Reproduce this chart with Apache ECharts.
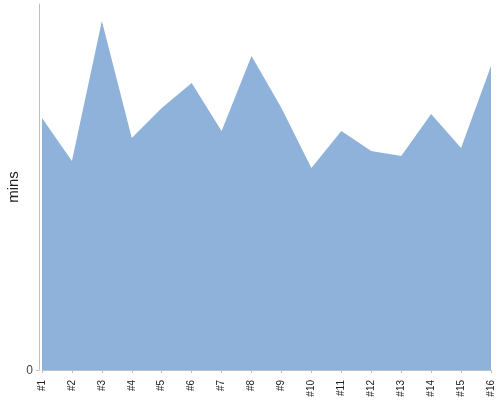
<!DOCTYPE html>
<html>
<head>
<meta charset="utf-8">
<script src="https://cdn.jsdelivr.net/npm/echarts@6/dist/echarts.min.js"></script>
<style>html,body{margin:0;padding:0;background:#fff}#c{width:500px;height:400px}</style>
</head>
<body>
<div id="c"></div>
<script>
var categories = ['#1','#2','#3','#4','#5','#6','#7','#8','#9','#10','#11','#12','#13','#14','#15','#16'];
var minsValues = [25.2, 20.9, 34.9, 23.2, 26.2, 28.7, 23.9, 31.4, 26.2, 20.2, 23.9, 21.9, 21.4, 25.6, 22.2, 30.4];
var yTickLabels = [0];

var chart = echarts.init(document.getElementById('c'), null, {renderer: 'canvas'});
chart.setOption({
  animation: false,
  grid: {left: 42, right: 9, top: 4, bottom: 30, containLabel: false, outerBoundsMode: 'none'},
  xAxis: {
    type: 'category',
    data: categories,
    boundaryGap: false,
    offset: 3,
    axisLine: {lineStyle: {color: '#c0c0c0', width: 1}},
    axisTick: {length: 3, alignWithLabel: true, lineStyle: {color: '#c0c0c0'}},
    axisLabel: {rotate: 90, interval: 0, fontFamily: 'Liberation Sans, Arial', fontSize: 10, color: '#222', margin: 7}
  },
  yAxis: {
    type: 'value',
    min: 0,
    max: 36.6,
    offset: 3,
    name: 'mins',
    nameLocation: 'middle',
    nameGap: 18,
    nameMoveOverlap: false,
    nameTextStyle: {fontFamily: 'Liberation Sans, Arial', fontSize: 15, color: '#222'},
    splitLine: {show: false},
    axisLine: {show: true, lineStyle: {color: '#c0c0c0', width: 1}},
    axisTick: {show: true, length: 3, customValues: yTickLabels, lineStyle: {color: '#c0c0c0'}},
    axisLabel: {customValues: yTickLabels, fontFamily: 'Liberation Sans, Arial', fontSize: 12, color: '#444', margin: 6, verticalAlign: 'top', padding: [-5, 0, 0, 0]}
  },
  series: [{
    type: 'line',
    data: minsValues,
    symbol: 'none',
    lineStyle: {width: 0},
    areaStyle: {color: '#8fb2da', opacity: 1}
  }]
});
</script>
</body>
</html>
